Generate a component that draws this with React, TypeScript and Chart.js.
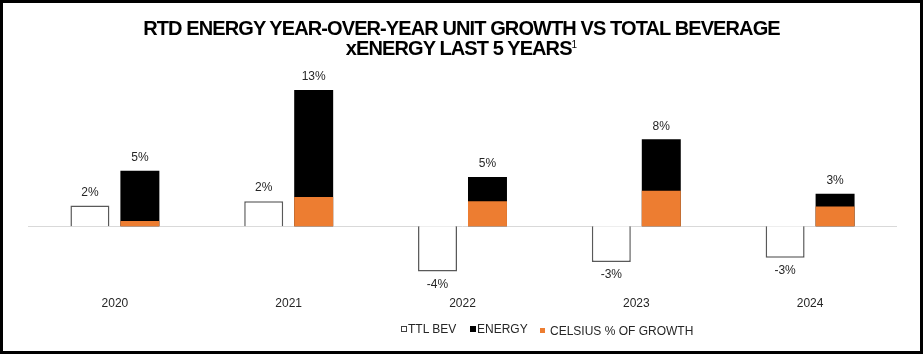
import React, { useEffect, useRef } from "react";
import { Chart, registerables } from "chart.js";

Chart.register(...registerables);

// ---- Data ----
const categories = ["2020", "2021", "2022", "2023", "2024"];
const ttlBev = [2.0, 2.4, -4.3, -3.4, -3.0];
const energy = [5.3, 13.0, 4.7, 8.3, 3.1];
const celsius = [0.5, 2.8, 2.4, 3.4, 1.9];
const seriesNames = ["TTL BEV", "ENERGY", "CELSIUS % OF GROWTH"];
const titleLine1 = "RTD ENERGY YEAR-OVER-YEAR UNIT GROWTH VS TOTAL BEVERAGE";
const titleLine2 = "xENERGY LAST 5 YEARS";
const footnoteMark = "1";

const ORANGE = "#ED7D31";
const FONT = '"Liberation Sans", Arial, Helvetica, sans-serif';
const TEXT = "#262626";

const zeroLinePlugin = {
  id: "zeroLine",
  beforeDatasetsDraw(chart: any) {
    const { ctx, chartArea, scales } = chart;
    const y = Math.round(scales.y.getPixelForValue(0)) + 0.5;
    ctx.save();
    ctx.strokeStyle = "#d9d9d9";
    ctx.lineWidth = 1;
    ctx.beginPath();
    ctx.moveTo(chartArea.left, y);
    ctx.lineTo(chartArea.right, y);
    ctx.stroke();
    ctx.restore();
  },
};

const valueLabelPlugin = {
  id: "valueLabels",
  afterDatasetsDraw(chart: any) {
    const ctx = chart.ctx;
    ctx.save();
    ctx.font = `12px ${FONT}`;
    ctx.fillStyle = TEXT;
    ctx.textAlign = "center";
    ctx.textBaseline = "middle";
    [0, 2].forEach((di) => {
      const meta = chart.getDatasetMeta(di);
      const data = chart.data.datasets[di].data as number[];
      meta.data.forEach((bar: any, i: number) => {
        const v = data[i];
        const y = v >= 0 ? bar.y - 13 : bar.y + 13;
        ctx.fillText(`${Math.round(v)}%`, bar.x, y);
      });
    });
    ctx.restore();
  },
};

export default function App() {
  const canvasRef = useRef<HTMLCanvasElement | null>(null);

  useEffect(() => {
    if (!canvasRef.current) return;
    const chart = new Chart(canvasRef.current, {
      type: "bar",
      data: {
        labels: categories,
        datasets: [
          {
            label: seriesNames[0],
            data: ttlBev,
            stack: "ttl",
            backgroundColor: "#ffffff",
            borderColor: "#595959",
            borderWidth: 1.5,
            categoryPercentage: 0.575,
            barPercentage: 0.78,
          },
          {
            label: seriesNames[2],
            data: celsius,
            stack: "energy",
            backgroundColor: ORANGE,
            borderWidth: 0,
            categoryPercentage: 0.575,
            barPercentage: 0.78,
          },
          {
            label: seriesNames[1],
            data: energy,
            stack: "energy",
            backgroundColor: "#000000",
            borderWidth: 0,
            categoryPercentage: 0.575,
            barPercentage: 0.78,
          },
        ],
      },
      options: {
        animation: false,
        responsive: false,
        devicePixelRatio: 1,
        layout: { padding: { left: 28, right: 26, top: 84.75, bottom: 36.3 } },
        plugins: {
          legend: { display: false },
          title: { display: false },
          tooltip: { enabled: false },
        },
        scales: {
          x: {
            stacked: true,
            grid: { display: false, drawTicks: false },
            border: { display: false },
            ticks: {
              color: TEXT,
              font: { family: FONT, size: 12 },
              padding: 7,
            },
          },
          y: {
            stacked: false,
            display: false,
            min: -6,
            max: 13.5,
          },
        },
      },
      plugins: [zeroLinePlugin, valueLabelPlugin],
    });
    return () => chart.destroy();
  }, []);

  const legendText: React.CSSProperties = {
    fontFamily: FONT,
    fontSize: 12,
    color: TEXT,
    lineHeight: "14px",
    whiteSpace: "nowrap",
  };

  return (
    <div
      style={{
        position: "absolute",
        left: 0,
        top: 0,
        width: 923,
        height: 354,
        background: "#ffffff",
        overflow: "hidden",
      }}
    >
      <canvas
        ref={canvasRef}
        width={923}
        height={354}
        style={{ position: "absolute", left: 0, top: 0, width: 923, height: 354 }}
      />
      <div
        style={{
          position: "absolute",
          left: 0,
          top: 19,
          width: 923,
          textAlign: "center",
          fontFamily: FONT,
          fontWeight: 700,
          fontSize: 20,
          lineHeight: "19.5px",
          letterSpacing: "-0.9px",
          color: "#000",
        }}
      >
        <div>{titleLine1}</div>
        <div>
          {titleLine2}
          <span
            style={{
              fontSize: 10,
              fontWeight: 400,
              verticalAlign: "7px",
              lineHeight: 0,
              letterSpacing: 0,
            }}
          >
            {footnoteMark}
          </span>
        </div>
      </div>
      {/* legend */}
      <div style={{ position: "absolute", left: 401, top: 322, display: "flex", alignItems: "center", height: 14 }}>
        <div style={{ width: 4, height: 4, border: "1px solid #404040", background: "#fff", marginRight: 1 }} />
        <span style={legendText}>{seriesNames[0]}</span>
      </div>
      <div style={{ position: "absolute", left: 470, top: 322, display: "flex", alignItems: "center", height: 14 }}>
        <div style={{ width: 6, height: 6, background: "#000", marginRight: 1 }} />
        <span style={legendText}>{seriesNames[1]}</span>
      </div>
      <div style={{ position: "absolute", left: 540, top: 323.5, display: "flex", alignItems: "center", height: 14 }}>
        <div style={{ width: 5, height: 5, background: ORANGE, marginRight: 5 }} />
        <span style={legendText}>{seriesNames[2]}</span>
      </div>
      <div
        style={{
          position: "absolute",
          left: 0,
          top: 0,
          width: 923,
          height: 354,
          boxSizing: "border-box",
          border: "3px solid #000",
          pointerEvents: "none",
        }}
      />
    </div>
  );
}
